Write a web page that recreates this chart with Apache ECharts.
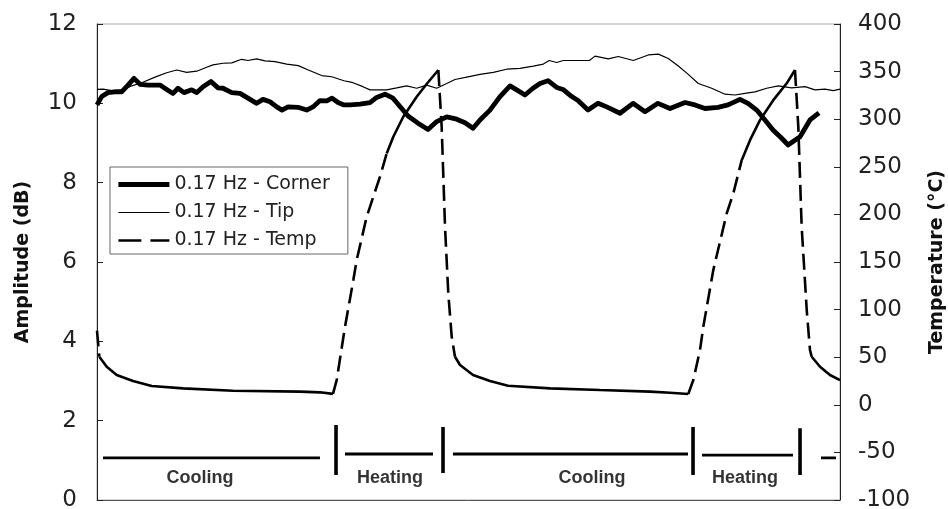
<!DOCTYPE html>
<html><head><meta charset="utf-8">
<script src="https://cdn.jsdelivr.net/npm/echarts@6/dist/echarts.min.js"></script>
<style>html,body{margin:0;padding:0;background:#fff}#c{width:948px;height:509px}</style>
</head><body><div id="c"></div>
<script>
// ---- data (x = elapsed time, arbitrary units 0..100) ----
const cornerX = [0,0.63,1.48,2.42,3.32,4.17,4.98,5.79,6.86,8.48,9.38,10.23,10.9,11.71,12.75,13.42,14.27,15.34,16.29,16.96,18.13,19.25,20.32,21.49,22.34,23.28,24.19,24.9,25.71,27.05,28.22,29.07,30.01,30.92,31.63,32.44,33.24,34.05,35.4,36.74,37.64,38.76,39.84,41.01,41.86,43.2,44.55,45.72,47.07,48.41,49.53,50.61,51.55,52.89,54.24,55.59,56.49,57.6,58.68,59.62,60.7,61.87,62.72,63.89,64.74,66.08,67.43,68.6,70.39,72.14,73.76,75.5,77.12,79.14,80.48,81.83,83.58,84.93,86.54,87.62,88.79,89.9,90.98,92.15,93.0,94.62,95.96,97.17];
const cornerY = [9.96,10.17,10.27,10.29,10.29,10.46,10.63,10.48,10.46,10.46,10.35,10.25,10.38,10.27,10.34,10.27,10.42,10.55,10.39,10.38,10.27,10.25,10.13,10.0,10.1,10.04,9.91,9.83,9.91,9.90,9.83,9.91,10.07,10.06,10.13,10.02,9.96,9.96,9.98,10.02,10.15,10.23,10.13,9.87,9.68,9.50,9.34,9.54,9.66,9.6,9.51,9.37,9.58,9.83,10.17,10.44,10.34,10.21,10.38,10.50,10.57,10.40,10.35,10.17,10.07,9.83,10.0,9.91,9.75,10.0,9.79,10.0,9.87,10.02,9.96,9.87,9.9,9.96,10.1,10.0,9.83,9.58,9.33,9.12,8.95,9.16,9.58,9.76];

const tipX = [0,0.81,1.98,3.32,4.67,6.02,7.81,9.38,10.73,12.07,13.42,14.76,15.61,16.96,18.13,19.48,20.32,21.49,22.61,23.96,25.53,27.09,28.44,30.24,31.59,33.24,34.45,35.8,36.74,38.99,40.34,41.68,43.03,44.37,45.72,47.07,48.18,49.76,51.55,53.34,55.14,56.93,58.72,60.07,60.87,61.87,62.76,64.56,66.26,67.03,68.82,70.16,72.18,74.2,75.55,76.89,78.24,79.58,80.93,82.73,84.52,85.87,87.21,88.56,90.13,91.7,93.49,95.29,96.64,97.98,99.1,100];
const tipY = [10.35,10.36,10.32,10.34,10.44,10.52,10.66,10.77,10.84,10.78,10.81,10.91,10.97,11.01,11.02,11.11,11.08,11.12,11.07,11.05,10.99,10.95,10.84,10.7,10.67,10.57,10.52,10.42,10.34,10.34,10.39,10.44,10.38,10.46,10.38,10.5,10.6,10.66,10.73,10.78,10.86,10.88,10.94,10.99,11.08,11.03,11.08,11.08,11.08,11.19,11.12,11.18,11.08,11.22,11.24,11.13,10.94,10.73,10.5,10.38,10.23,10.21,10.25,10.29,10.38,10.44,10.39,10.42,10.34,10.36,10.32,10.36];

const tempX = [0,0.31,1.31,2.65,4.85,7.36,11.57,18.3,27.32,30.01,31.76,32.26,33.38,34.5,34.95,36.3,37.19,38.09,38.99,39.88,41.22,43.03,44.37,45.94,46.39,46.84,47.28,47.74,48.18,48.86,50.61,52.89,55.32,60.97,67.7,74.43,77.12,79.58,80.26,81.16,81.6,82.95,84.75,85.64,86.77,87.89,89.23,91.02,92.83,93.94,94.39,94.84,95.52,95.96,96.19,97.31,98.65,100];
const tempY = [78,50.5,40,31.3,25,19.7,17.3,14.8,13.8,13.1,11.5,26,82,131,152,197.6,218.6,239.6,264,281.6,302.6,323.6,337,351.7,292,187,117,71.5,50.5,41.8,31.3,25,20,17.3,15.5,13.8,12.7,11.3,26,57.6,82,141.6,201,222,257,278,299,320,337.7,351.7,292,187,99.6,57.6,50.5,40,31.3,26];
// index runs of the temperature trace that are sparsely sampled (render dashed)
const tempDashedRuns = [[0,1],[10,18],[23,28],[37,44],[49,54]];

// phase annotation (x1, x2, amplitude) and bars (x, amp1, amp2)
const phaseLines = [[0.81,30.01,1.06],[33.38,45.22,1.16],[47.91,79.54,1.16],[81.43,93.67,1.13],[97.44,99.46,1.06]];
const phaseBars = [[32.17,0.63,1.89],[46.57,0.68,1.84],[80.22,0.63,1.84],[94.62,0.63,1.81]];
const phaseNames = ['Cooling','Heating','Cooling','Heating'];
const phaseLabelX = [13.86,39.43,66.62,87.21];
const phaseLabelY = 0.55;

const leftTicks = {min:0, max:12, interval:2};
const rightTicks = {min:-100, max:400, interval:50};
const names = ['0.17 Hz - Corner','0.17 Hz - Tip','0.17 Hz - Temp'];

// ---- build ----
const FONT = 'DejaVu Sans';
const pair = (xs, ys) => xs.map((x, i) => [x, ys[i]]);
const tempPts = pair(tempX, tempY);
const segDashed = i => tempDashedRuns.some(([a, b]) => i >= a && i < b);
const n = tempPts.length;
const tempSolid = tempPts.map((p, i) => ((i > 0 && !segDashed(i - 1)) || (i < n - 1 && !segDashed(i))) ? p : [p[0], null]);
const tempDash = tempPts.map((p, i) => ((i > 0 && segDashed(i - 1)) || segDashed(i)) ? p : [p[0], null]);

const W_CORNER = 4.8, W_TIP = 1.2, W_TEMP = 2.6, DASH = [16, 7];

const series = [
  {name: names[0], type: 'line', yAxisIndex: 0, data: pair(cornerX, cornerY), symbol: 'none', showSymbol: false,
   lineStyle: {color: '#000', width: W_CORNER, join: 'round'}, itemStyle: {color: '#000'}, silent: true, z: 3},
  {name: names[1], type: 'line', yAxisIndex: 0, data: pair(tipX, tipY), symbol: 'none', showSymbol: false,
   lineStyle: {color: '#000', width: W_TIP}, itemStyle: {color: '#000'}, silent: true, z: 3},
  {name: names[2], type: 'line', yAxisIndex: 1, data: tempDash, symbol: 'none', showSymbol: false,
   lineStyle: {color: '#000', width: W_TEMP, type: DASH}, itemStyle: {color: '#000'}, silent: true, z: 3},
  {name: names[2], type: 'line', yAxisIndex: 1, data: tempSolid, symbol: 'none', showSymbol: false,
   lineStyle: {color: '#000', width: W_TEMP}, itemStyle: {color: '#000'}, silent: true, z: 3}
];
phaseLines.forEach(([x1, x2, y]) => series.push({
  type: 'line', yAxisIndex: 0, data: [[x1, y], [x2, y]], symbol: 'none', silent: true,
  lineStyle: {color: '#000', width: 2.8}}));
phaseBars.forEach(([x, y1, y2]) => series.push({
  type: 'line', yAxisIndex: 0, data: [[x, y1], [x, y2]], symbol: 'none', silent: true,
  lineStyle: {color: '#000', width: 3.6}}));
series.push({
  type: 'scatter', yAxisIndex: 0, silent: true, symbolSize: 1, itemStyle: {color: 'rgba(0,0,0,0)'},
  data: phaseNames.map((nm, i) => ({name: nm, value: [phaseLabelX[i], phaseLabelY]})),
  label: {show: true, position: 'inside', formatter: '{b}', color: '#000',
          fontFamily: 'Liberation Sans', fontWeight: 'bold', fontSize: 18}
});

const axisLabel = {color: '#222', fontSize: 23, fontFamily: FONT};
const option = {
  animation: false,
  textStyle: {fontFamily: FONT},
  grid: {left: 97, right: 108, top: 24, bottom: 9, show: true, borderColor: '#aaa', borderWidth: 1,
         containLabel: false, outerBoundsMode: 'none'},
  legend: {
    orient: 'vertical', left: 110, top: 167, selectedMode: false,
    borderColor: '#666', borderWidth: 1, padding: [8, 18, 4, 6],
    itemGap: 9, itemWidth: 51, itemHeight: 14,
    textStyle: {fontSize: 19, color: '#222', fontFamily: FONT},
    itemStyle: {opacity: 0},
    data: [
      {name: names[0], lineStyle: {width: W_CORNER, color: '#000'}},
      {name: names[1], lineStyle: {width: W_TIP, color: '#000'}},
      {name: names[2], lineStyle: {width: W_TEMP, color: '#000', type: [23, 9]}}
    ]
  },
  xAxis: {type: 'value', min: 0, max: 100, axisLabel: {show: false}, axisTick: {show: false},
          splitLine: {show: false}, axisLine: {show: true, lineStyle: {color: '#555', width: 1}}},
  yAxis: [
    {type: 'value', position: 'left', ...leftTicks, name: 'Amplitude (dB)', nameLocation: 'middle', nameRotate: 90, nameGap: 64,
     nameTextStyle: {fontSize: 19, fontWeight: 'bold', color: '#111', fontFamily: FONT},
     axisLine: {show: true, lineStyle: {color: '#222', width: 1}},
     axisTick: {show: true, inside: true, length: 6, lineStyle: {color: '#222'}},
     axisLabel: {...axisLabel, margin: 20}, splitLine: {show: false}},
    {type: 'value', position: 'right', ...rightTicks, name: 'Temperature (°C)', nameLocation: 'middle', nameRotate: 90, nameGap: 88,
     nameTextStyle: {fontSize: 19, fontWeight: 'bold', color: '#111', fontFamily: FONT},
     axisLine: {show: true, lineStyle: {color: '#222', width: 1}},
     axisTick: {show: true, inside: true, length: 6, lineStyle: {color: '#222'}},
     axisLabel: {...axisLabel, margin: 18}, splitLine: {show: false}}
  ],
  series
};
const chart = echarts.init(document.getElementById('c'));
chart.setOption(option);
</script>
</body></html>
